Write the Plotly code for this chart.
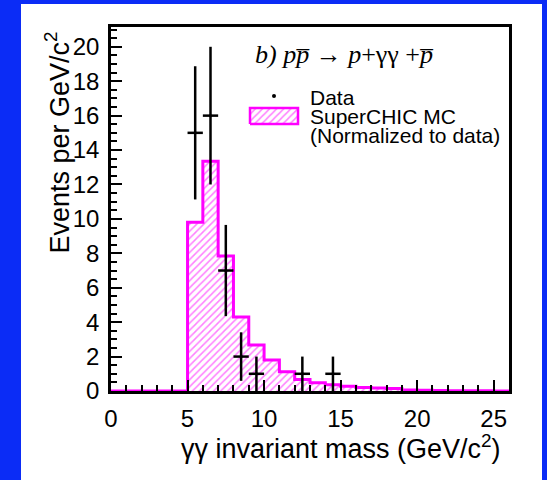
import plotly.graph_objects as go

# ---- data ----
bin_edges = list(range(0, 27))  # 1 GeV bins, 0..26
mc_counts = [0, 0, 0, 0, 0, 9.8, 13.35, 7.85, 4.3, 2.68, 1.8, 1.12, 0.67, 0.48, 0.36,
             0.28, 0.2, 0.17, 0.14, 0.06, 0.04, 0.03, 0.02, 0.01, 0.01, 0.0]
data_x = [5.5, 6.5, 7.5, 8.5, 9.5, 12.5, 14.5]
data_y = [15, 16, 7, 2, 1, 1, 1]
data_err = [3.87, 4.0, 2.65, 1.41, 1.0, 1.0, 1.0]
data_xerr = 0.5
x_ticks = [0, 5, 10, 15, 20, 25]
y_ticks = [0, 2, 4, 6, 8, 10, 12, 14, 16, 18, 20]

MAGENTA = "#ff00ff"
BLUE = "#0b2cf6"
SANS = "Liberation Sans, Arial, Helvetica, sans-serif"
SERIF = "Liberation Serif, Times New Roman, serif"

W, H = 547, 480
L, R, T, B = 111, 38, 27, 89
pw, ph = W - L - R, H - T - B


def px2paper(x, y):
    return (x - L) / pw, (H - B - y) / ph


centers = [e + 0.5 for e in bin_edges[:-1]]
step_y = mc_counts + [mc_counts[-1]]

fig = go.Figure()

# hatched MC histogram fill
fig.add_trace(go.Bar(
    x=centers, y=mc_counts, width=1.0,
    marker=dict(color="white", line=dict(width=0),
                pattern=dict(shape="/", fgcolor=MAGENTA, bgcolor="white",
                             size=5, solidity=0.3)),
    showlegend=False, hoverinfo="skip"))

# step outline
fig.add_trace(go.Scatter(
    x=bin_edges, y=step_y, mode="lines", line=dict(shape="hv", color=MAGENTA, width=3),
    showlegend=False, hoverinfo="skip"))

# data points
fig.add_trace(go.Scatter(
    x=data_x, y=data_y, mode="markers",
    marker=dict(color="black", size=3),
    error_y=dict(type="data", array=data_err, color="black", thickness=2.5, width=0),
    error_x=dict(type="constant", value=data_xerr, color="black", thickness=2.5, width=0),
    showlegend=False))

# legend (drawn in an overlay axis spanning the plot area, 0..1)
bx0, by0 = px2paper(250, 124)
bx1, by1 = px2paper(298, 108)
fig.add_trace(go.Scatter(
    x=[bx0, bx1, bx1, bx0, bx0], y=[by0, by0, by1, by1, by0],
    xaxis="x2", yaxis="y2", mode="lines", fill="toself",
    fillcolor="white",
    fillpattern=dict(shape="/", fgcolor=MAGENTA, bgcolor="white", size=5, solidity=0.3),
    line=dict(color=MAGENTA, width=2.5), showlegend=False, hoverinfo="skip"))
dx, dy = px2paper(274, 96)
fig.add_trace(go.Scatter(
    x=[dx], y=[dy], xaxis="x2", yaxis="y2", mode="markers",
    marker=dict(color="black", size=4), showlegend=False, hoverinfo="skip"))

annotations = []
for txt, yy in [("Data", 98), ("SuperCHIC MC", 116.5), ("(Normalized to data)", 135)]:
    ax_, ay_ = px2paper(308, yy)
    annotations.append(dict(text=txt, x=ax_, y=ay_, xref="paper", yref="paper",
                            xanchor="left", yanchor="middle", showarrow=False,
                            font=dict(family=SANS, size=21, color="black")))

# process label
tx, ty = px2paper(343.5, 55)
annotations.append(dict(
    text="<i>b) pp\u0305</i> \u2192 <i>p</i>+\u03b3\u03b3 +<i>p\u0305</i>",
    x=tx, y=ty, xref="paper", yref="paper", xanchor="center", yanchor="middle",
    showarrow=False, font=dict(family=SERIF, size=26, color="black")))

# axis titles
xtx, xty = px2paper(340.5, 447)
annotations.append(dict(
    text="\u03b3\u03b3 invariant mass (GeV/c<sup>2</sup>)", x=xtx, y=xty,
    xref="paper", yref="paper", xanchor="center", yanchor="middle", showarrow=False,
    font=dict(family=SANS, size=27, color="black")))
ytx, yty = px2paper(57, 142.5)
annotations.append(dict(
    text="Events per GeV/c<sup>2</sup>", x=ytx, y=yty, textangle=-90,
    xref="paper", yref="paper", xanchor="center", yanchor="middle", showarrow=False,
    font=dict(family=SANS, size=27, color="black")))

# white slide panel over blue background
px0, py0 = px2paper(21, 480)
px1, py1 = px2paper(542, 4)
shapes = [dict(type="rect", xref="paper", yref="paper", x0=px0, x1=px1, y0=py0 - 0.05, y1=py1,
               fillcolor="white", line=dict(width=0), layer="below")]

fig.update_layout(
    width=W, height=H, margin=dict(l=L, r=R, t=T, b=B, pad=0),
    paper_bgcolor=BLUE, plot_bgcolor="white",
    showlegend=False, bargap=0,
    font=dict(family=SANS, size=24, color="black"),
    annotations=annotations, shapes=shapes,
    xaxis=dict(range=[0, 26], tickvals=x_ticks, ticktext=[str(v) for v in x_ticks],
               ticks="inside", ticklen=11, tickwidth=1.5, tickcolor="black",
               minor=dict(dtick=1, ticks="inside", ticklen=6, tickwidth=1.5, tickcolor="black"),
               showline=True, linecolor="black", linewidth=2.5, mirror=True,
               showgrid=False, zeroline=False, ticklabelstandoff=4,
               tickfont=dict(family=SANS, size=24, color="black")),
    yaxis=dict(range=[0, 21.15], tickvals=y_ticks, ticktext=[str(v) for v in y_ticks],
               ticks="inside", ticklen=11, tickwidth=1.5, tickcolor="black",
               minor=dict(dtick=0.5, ticks="inside", ticklen=6, tickwidth=1.5, tickcolor="black"),
               showline=True, linecolor="black", linewidth=2.5, mirror=True,
               showgrid=False, zeroline=False, ticklabelstandoff=4,
               tickfont=dict(family=SANS, size=24, color="black")),
    xaxis2=dict(range=[0, 1], overlaying="x", visible=False, fixedrange=True),
    yaxis2=dict(range=[0, 1], overlaying="y", visible=False, fixedrange=True),
)

fig.write_html("out.html", config={"displayModeBar": False},
               post_script="document.body.style.margin='0';document.body.style.overflow='hidden';")
